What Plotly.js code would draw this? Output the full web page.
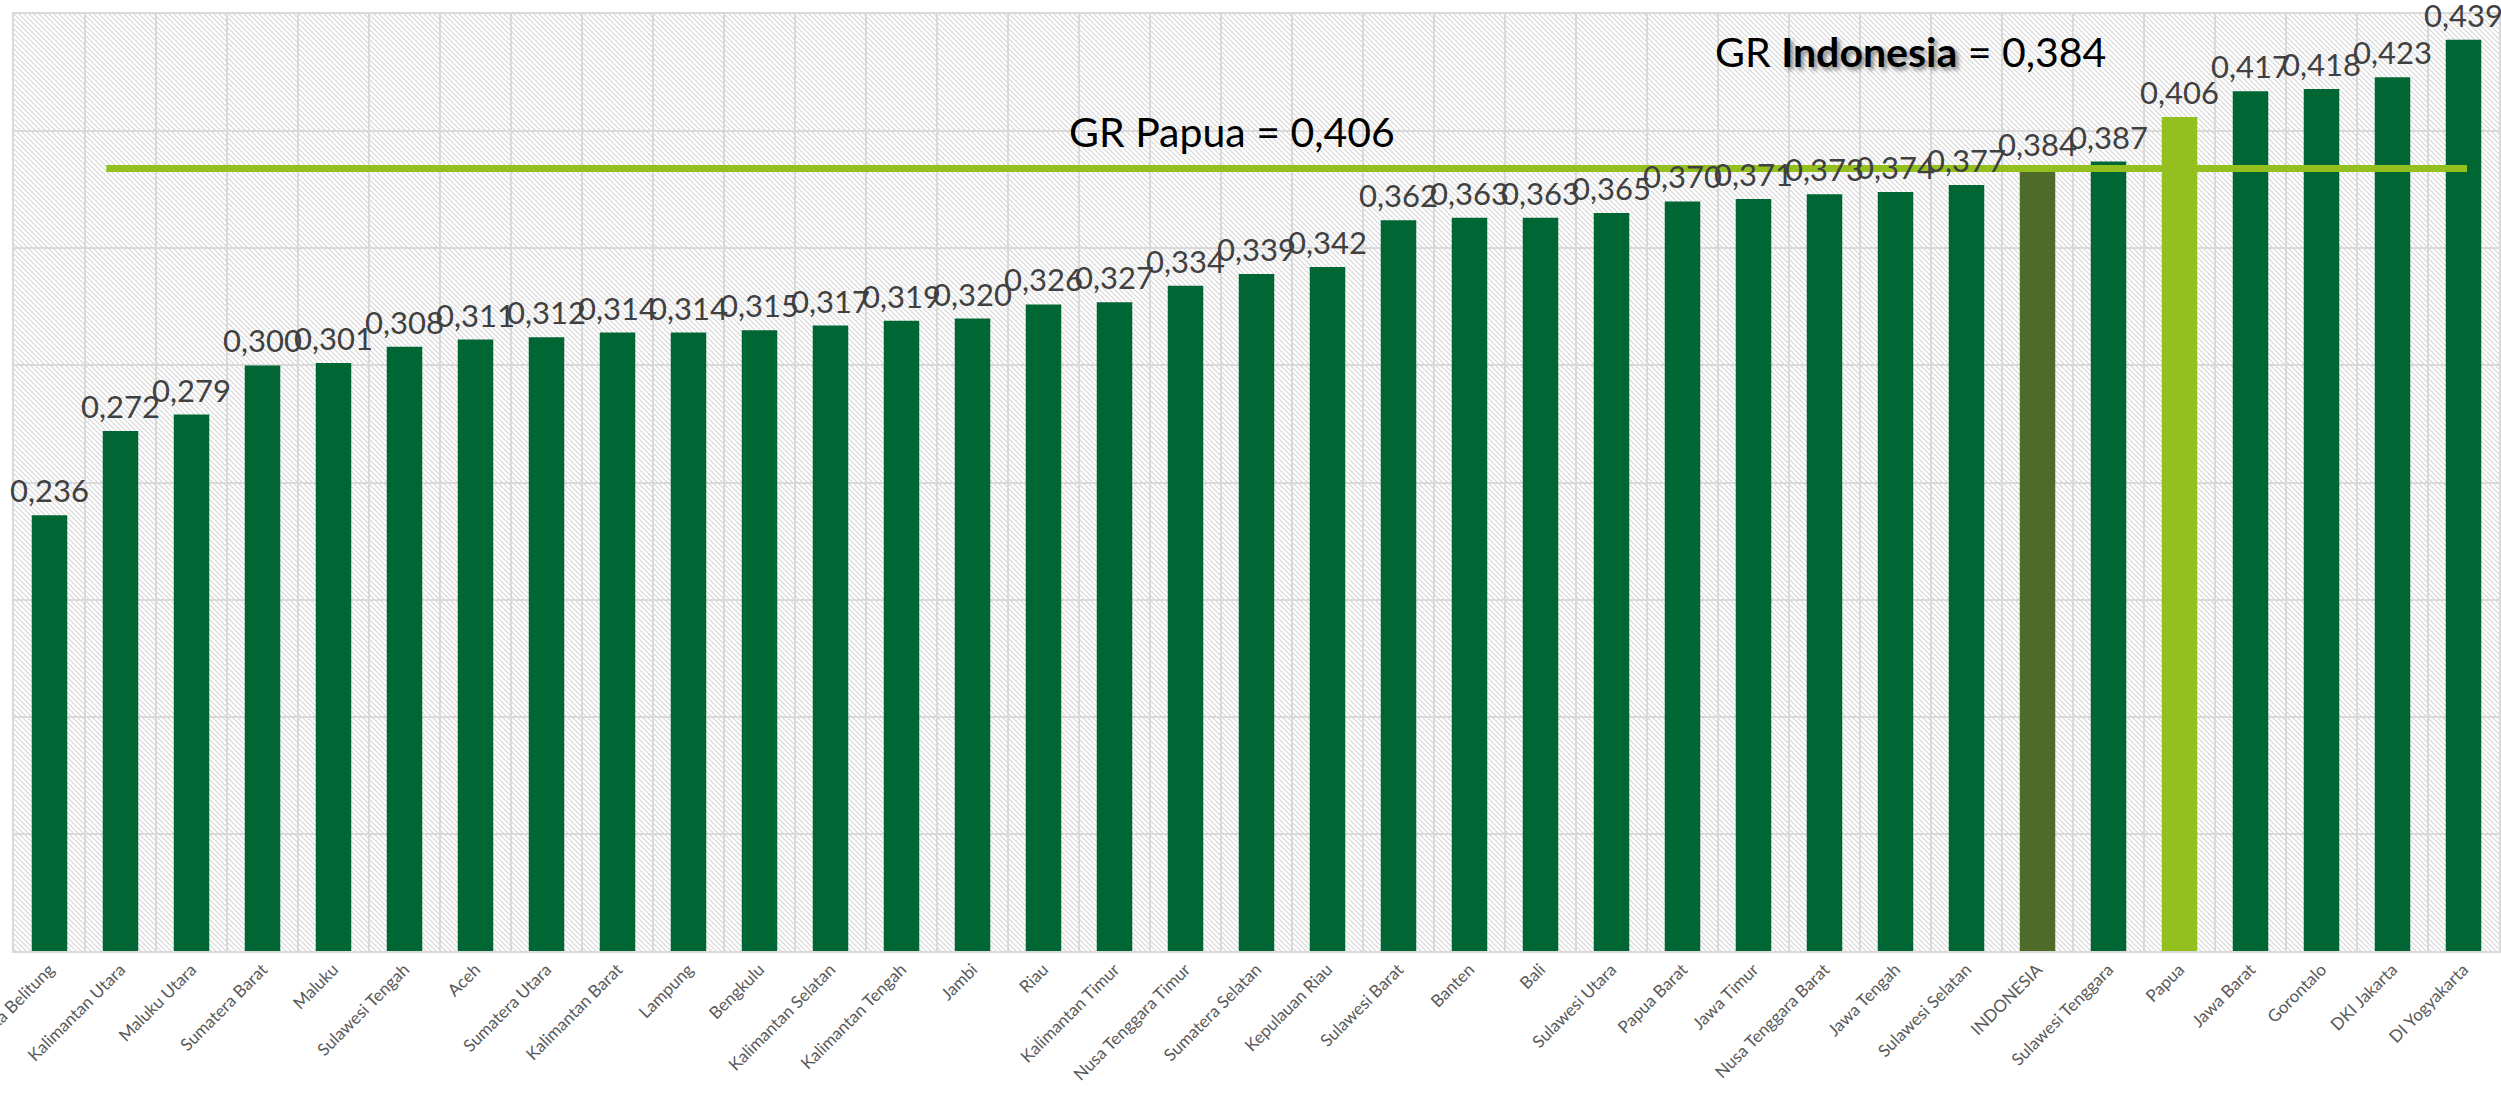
<!DOCTYPE html>
<html>
<head>
<meta charset="utf-8">
<script src="https://cdn.plot.ly/plotly-3.0.1.min.js"></script>
<style>
  html, body { margin: 0; padding: 0; background: #ffffff; }
  #grafico-gini { width: 2501px; height: 1095px; }
  .annotation-text tspan[style*="bold"] { text-shadow: 3px 3px 4px rgba(0,0,0,0.45); }
</style>
</head>
<body>
<div id="grafico-gini"></div>
<script>
var provinsi = ["Kep. Bangka Belitung","Kalimantan Utara","Maluku Utara","Sumatera Barat","Maluku","Sulawesi Tengah","Aceh","Sumatera Utara","Kalimantan Barat","Lampung","Bengkulu","Kalimantan Selatan","Kalimantan Tengah","Jambi","Riau","Kalimantan Timur","Nusa Tenggara Timur","Sumatera Selatan","Kepulauan Riau","Sulawesi Barat","Banten","Bali","Sulawesi Utara","Papua Barat","Jawa Timur","Nusa Tenggara Barat","Jawa Tengah","Sulawesi Selatan","INDONESIA","Sulawesi Tenggara","Papua","Jawa Barat","Gorontalo","DKI Jakarta","DI Yogyakarta"];
var gini = [0.236,0.272,0.279,0.300,0.301,0.308,0.311,0.312,0.314,0.314,0.315,0.317,0.319,0.320,0.326,0.327,0.334,0.339,0.342,0.362,0.363,0.363,0.365,0.370,0.371,0.373,0.374,0.377,0.384,0.387,0.406,0.417,0.418,0.423,0.439];

var giniIndonesia = gini[provinsi.indexOf("INDONESIA")];
var giniPapua = gini[provinsi.indexOf("Papua")];

function formatKoma(v){
	return v.toFixed(3).replace(".", ",");
}

function GraficoGini(){
	var warna = provinsi.map(function(p){
		if (p == "INDONESIA") return "#4e6b2a";
		if (p == "Papua") return "#93c01f";
		return "#006634";
	});

	var data = [{
		x: provinsi,
		y: gini,
		type: "bar",
		hoverinfo: "none",
		marker: {color: warna}
	}];

	// label nilai di atas batang
	var labels = provinsi.map(function(p, i){
		return {
			xref: "x", yref: "y",
			x: p, y: gini[i],
			xanchor: "center", yanchor: "bottom",
			yshift: 4,
			text: formatKoma(gini[i]),
			showarrow: false,
			font: {size: 31, color: "#404040"}
		};
	});

	var judul = [{
		xref: "paper", yref: "paper",
		x: 0.49, y: 0.875,
		xanchor: "center", yanchor: "middle",
		text: "GR Papua = " + formatKoma(giniPapua),
		showarrow: false,
		font: {size: 41, color: "#000000"}
	},{
		xref: "paper", yref: "paper",
		x: 0.763, y: 0.96,
		xanchor: "center", yanchor: "middle",
		text: "GR <b>Indonesia</b> = " + formatKoma(giniIndonesia),
		showarrow: false,
		font: {size: 41, color: "#000000"}
	}];

	var layout = {
		width: 2501,
		height: 1095,
		margin: {l: 14, r: 2, t: 14, b: 144, autoexpand: false},
		paper_bgcolor: "#ffffff",
		plot_bgcolor: "rgba(0,0,0,0)",
		font: {family: "Lato, sans-serif", color: "#595959"},
		bargap: 0.5,
		showlegend: false,
		xaxis: {
			type: "category",
			range: [-0.5, provinsi.length - 0.5],
			tickson: "boundaries",
			showgrid: true,
			gridcolor: "#d9d9d9",
			gridwidth: 2,
			ticks: "",
			tickangle: -45,
			tickfont: {size: 17, color: "#595959"},
			showline: true,
			linecolor: "#d9d9d9",
			linewidth: 2,
			mirror: true,
			zeroline: false,
			automargin: false
		},
		yaxis: {
			range: [0.05, 0.45],
			dtick: 0.05,
			showgrid: true,
			gridcolor: "#d9d9d9",
			gridwidth: 2,
			showticklabels: false,
			ticks: "",
			showline: true,
			linecolor: "#d9d9d9",
			linewidth: 2,
			mirror: true,
			zeroline: false,
			automargin: false
		},
		shapes: [{
			type: "line",
			xref: "x",
			yref: "y",
			x0: 0.8,
			x1: 34.05,
			y0: giniIndonesia,
			y1: giniIndonesia,
			line: {color: "#93c01f", width: 7}
		}],
		annotations: labels.concat(judul)
	};

	var config = {staticPlot: true};

	Plotly.newPlot("grafico-gini", data, layout, config).then(function(gd){
		// arsiran diagonal di latar area plot
		var svg = gd.querySelector("svg.main-svg");
		var ns = "http://www.w3.org/2000/svg";
		var defs = document.createElementNS(ns, "defs");
		var pola = document.createElementNS(ns, "pattern");
		pola.setAttribute("id", "arsir");
		pola.setAttribute("width", "5");
		pola.setAttribute("height", "5");
		pola.setAttribute("patternUnits", "userSpaceOnUse");
		var garis = document.createElementNS(ns, "path");
		garis.setAttribute("d", "M0,0 L5,5 M-1,4 L1,6 M4,-1 L6,1");
		garis.setAttribute("stroke", "#d6d6d6");
		garis.setAttribute("stroke-width", "1.2");
		pola.appendChild(garis);
		defs.appendChild(pola);

		var sz = gd._fullLayout._size;
		var latar = document.createElementNS(ns, "rect");
		latar.setAttribute("x", sz.l);
		latar.setAttribute("y", sz.t);
		latar.setAttribute("width", sz.w);
		latar.setAttribute("height", sz.h);
		latar.setAttribute("fill", "url(#arsir)");

		svg.insertBefore(latar, svg.firstChild);
		svg.insertBefore(defs, svg.firstChild);
	});
}

document.addEventListener("DOMContentLoaded", function() {
	GraficoGini();
});
</script>
</body>
</html>
